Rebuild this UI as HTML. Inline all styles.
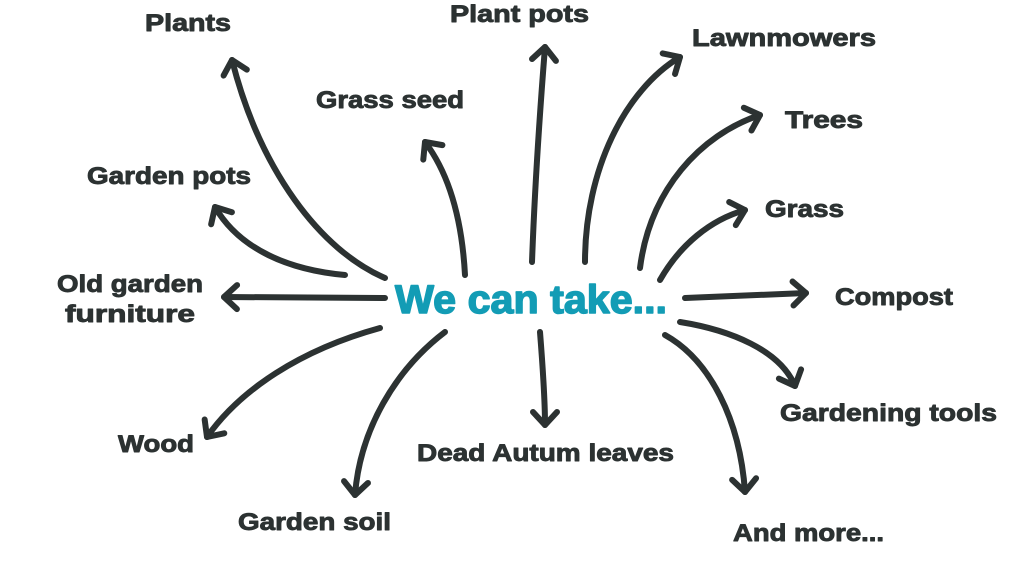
<!DOCTYPE html>
<html><head><meta charset="utf-8"><style>
html,body{margin:0;padding:0;background:#fff;}
svg{display:block}
text{font-family:"Liberation Sans",sans-serif;font-weight:bold;fill:#2c3232;stroke:#2c3232;stroke-width:0.9;stroke-linejoin:round;}
</style></head><body>
<svg width="1024" height="576" viewBox="0 0 1024 576" xmlns="http://www.w3.org/2000/svg">
<defs>
<marker id="a" markerUnits="userSpaceOnUse" markerWidth="40" markerHeight="40" viewBox="-20 -20 40 40" refX="0" refY="0" orient="auto">
<path d="M-13,-12 L0,0 L-13,12" fill="none" stroke="#2c3232" stroke-width="6" stroke-linecap="round" stroke-linejoin="round"/>
</marker>
</defs>
<g fill="none" stroke="#2c3232" stroke-width="6" stroke-linecap="round" marker-end="url(#a)">
<path d="M385,278 C320,250 260,170 232,60"/>
<path d="M465,275 C462,220 450,175 425,142"/>
<path d="M345,275 C290,270 240,250 215,207"/>
<path d="M385,298 L224,297"/>
<path d="M532,262 C535,180 540,110 545,47"/>
<path d="M585,262 C585,170 625,90 680,57"/>
<path d="M640,268 C650,190 700,135 760,115"/>
<path d="M660,280 C680,245 710,220 745,210"/>
<path d="M685,298 L806,293"/>
<path d="M680,322 C730,330 780,350 795,386"/>
<path d="M665,335 C710,360 740,420 745,492"/>
<path d="M540,332 C543,370 545,400 545,425"/>
<path d="M445,332 C395,370 360,430 355,495"/>
<path d="M380,328 C300,350 240,390 207,437"/>
</g>
<g font-size="24">
<text x="145" y="31" textLength="86" lengthAdjust="spacingAndGlyphs">Plants</text>
<text x="450" y="22" textLength="139" lengthAdjust="spacingAndGlyphs">Plant pots</text>
<text x="692" y="46" textLength="184" lengthAdjust="spacingAndGlyphs">Lawnmowers</text>
<text x="785" y="128" textLength="78" lengthAdjust="spacingAndGlyphs">Trees</text>
<text x="316" y="108" textLength="148" lengthAdjust="spacingAndGlyphs">Grass seed</text>
<text x="87" y="184" textLength="164" lengthAdjust="spacingAndGlyphs">Garden pots</text>
<text x="765" y="217" textLength="79" lengthAdjust="spacingAndGlyphs">Grass</text>
<text x="57" y="292" textLength="146" lengthAdjust="spacingAndGlyphs">Old garden</text>
<text x="65" y="322" textLength="130" lengthAdjust="spacingAndGlyphs">furniture</text>
<text x="835" y="305" textLength="118" lengthAdjust="spacingAndGlyphs">Compost</text>
<text x="780" y="421" textLength="217" lengthAdjust="spacingAndGlyphs">Gardening tools</text>
<text x="118" y="452" textLength="76" lengthAdjust="spacingAndGlyphs">Wood</text>
<text x="417" y="461" textLength="257" lengthAdjust="spacingAndGlyphs">Dead Autum leaves</text>
<text x="238" y="530" textLength="153" lengthAdjust="spacingAndGlyphs">Garden soil</text>
<text x="733" y="541" textLength="151" lengthAdjust="spacingAndGlyphs">And more...</text>
</g>
<text x="395" y="313" font-size="40" textLength="272" lengthAdjust="spacingAndGlyphs" style="fill:#139cb5;stroke:#139cb5;stroke-width:1.5">We can take...</text>
</svg>
</body></html>
